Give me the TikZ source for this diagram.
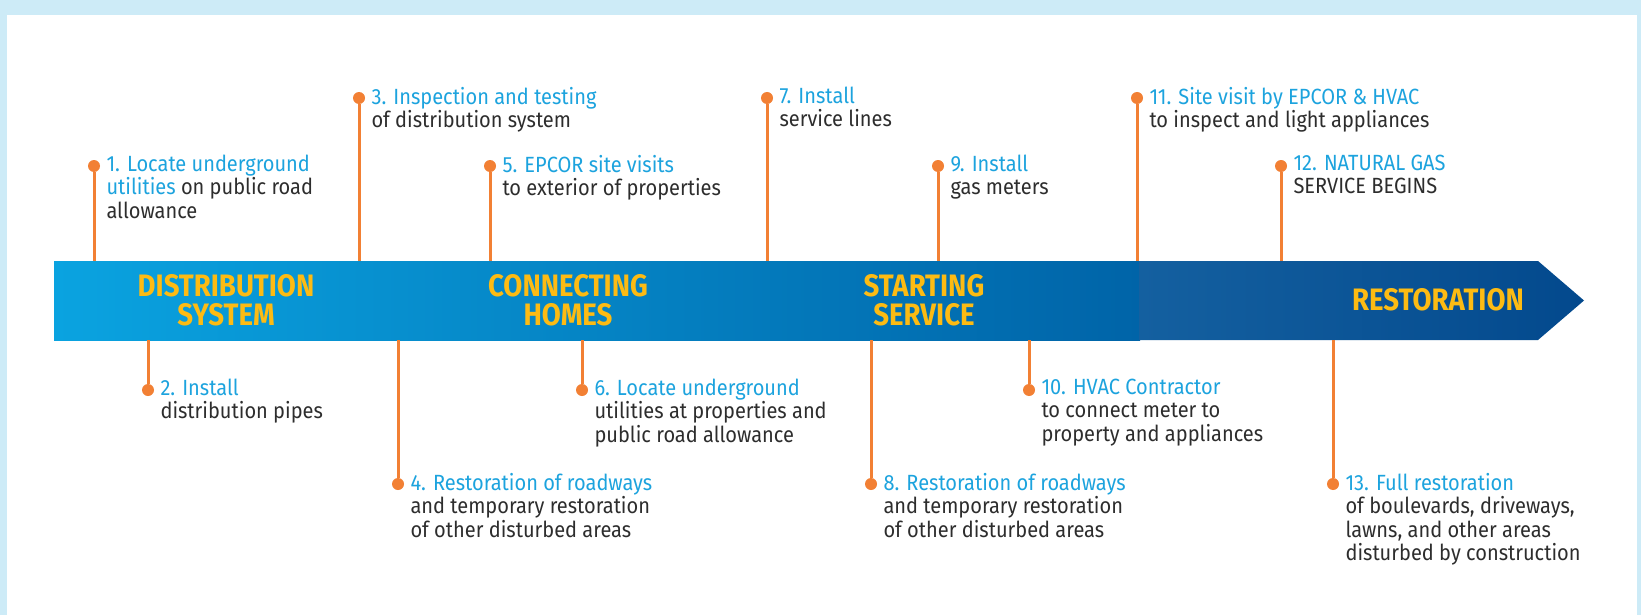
\documentclass[tikz,border=0pt]{standalone}
\usepackage{fontspec}
\setmainfont[FakeStretch=0.91]{Fira Sans}
\newfontfamily\barfont[FakeStretch=0.89]{Fira Sans}
\usetikzlibrary{calc,positioning}
\definecolor{frameblue}{RGB}{205,235,247}
\definecolor{stepblue}{RGB}{28,163,222}
\definecolor{steporange}{RGB}{242,128,52}
\definecolor{stepgray}{RGB}{45,45,45}
\definecolor{baryellow}{RGB}{253,187,19}
\definecolor{barA}{RGB}{10,163,224}
\definecolor{barB}{RGB}{0,100,168}
\definecolor{barC}{RGB}{20,96,160}
\definecolor{barD}{RGB}{3,73,141}
\tikzset{
  dot/.style={circle, fill=steporange, inner sep=0pt, minimum size=6pt},
  stem/.style={draw=steporange, line width=1.5pt},
  steptext/.style={align=left, inner sep=0pt, text=stepgray,
    font=\fontsize{11}{11.75}\selectfont},
  next to/.style={below right=-8pt and 3.8pt of #1},
  phase/.style={align=center, text=baryellow,
    font=\barfont\bfseries\fontsize{15.5}{14.6}\selectfont},
}
\newcommand\sthead[1]{\textcolor{stepblue}{#1}}

\begin{document}
\begin{tikzpicture}[x=0.5pt,y=-0.5pt]
    \fill[frameblue] (0,0) rectangle (1641,615);
    \fill[white] (7,15) rectangle (1637,615);
    \shade[left color=barA, right color=barB] (54,261) rectangle (1140,340);
    \shade[left color=barC, right color=barD]
        (1139,261) -- (1538,261) -- (1584,300.5) -- (1538,340) -- (1139,340) -- cycle;
    \coordinate (bartop) at (0,261);
    \coordinate (barbot) at (0,340);

    \node[phase] (p1) at (226,300) {DISTRIBUTION\\SYSTEM};
    \node[phase] (p2) at (568,300) {CONNECTING\\HOMES};
    \node[phase] (p3) at (924,300) {STARTING\\SERVICE};
    \node[phase] (p4) at (1438,300) {RESTORATION};

    \foreach \n/\x/\y in {1/94/166, 2/148/390, 3/359/98, 4/398/484, 5/490/166,
        6/582/390, 7/767/98, 8/871/484, 9/938/166, 10/1029/390, 11/1137/98,
        12/1281/166, 13/1333/484}
        \node[dot] (d\n) at (\x,\y) {};
    \foreach \n in {1,3,5,7,9,11,12}
        \draw[stem] (d\n) -- (d\n |- bartop);
    \foreach \n in {2,4,6,8,10,13}
        \draw[stem] (d\n) -- (d\n |- barbot);

    \node[steptext, next to=d1] (t1) {\sthead{1. Locate underground}\\\sthead{utilities} on public road\\allowance};
    \node[steptext, next to=d2] (t2) {\sthead{2. Install}\\distribution pipes};
    \node[steptext, next to=d3] (t3) {\sthead{3. Inspection and testing}\\of distribution system};
    \node[steptext, next to=d4] (t4) {\sthead{4. Restoration of roadways}\\and temporary restoration\\of other disturbed areas};
    \node[steptext, next to=d5] (t5) {\sthead{5. EPCOR site visits}\\to exterior of properties};
    \node[steptext, next to=d6] (t6) {\sthead{6. Locate underground}\\utilities at properties and\\public road allowance};
    \node[steptext, next to=d7] (t7) {\sthead{7. Install}\\service lines};
    \node[steptext, next to=d8] (t8) {\sthead{8. Restoration of roadways}\\and temporary restoration\\of other disturbed areas};
    \node[steptext, next to=d9] (t9) {\sthead{9. Install}\\gas meters};
    \node[steptext, next to=d10] (t10) {\sthead{10. HVAC Contractor}\\to connect meter to\\property and appliances};
    \node[steptext, next to=d11] (t11) {\sthead{11. Site visit by EPCOR \& HVAC}\\to inspect and light appliances};
    \node[steptext, next to=d12] (t12) {\sthead{12. NATURAL GAS}\\SERVICE BEGINS};
    \node[steptext, next to=d13] (t13) {\sthead{13. Full restoration}\\of boulevards, driveways,\\lawns, and other areas\\disturbed by construction};
\end{tikzpicture}
\end{document}
